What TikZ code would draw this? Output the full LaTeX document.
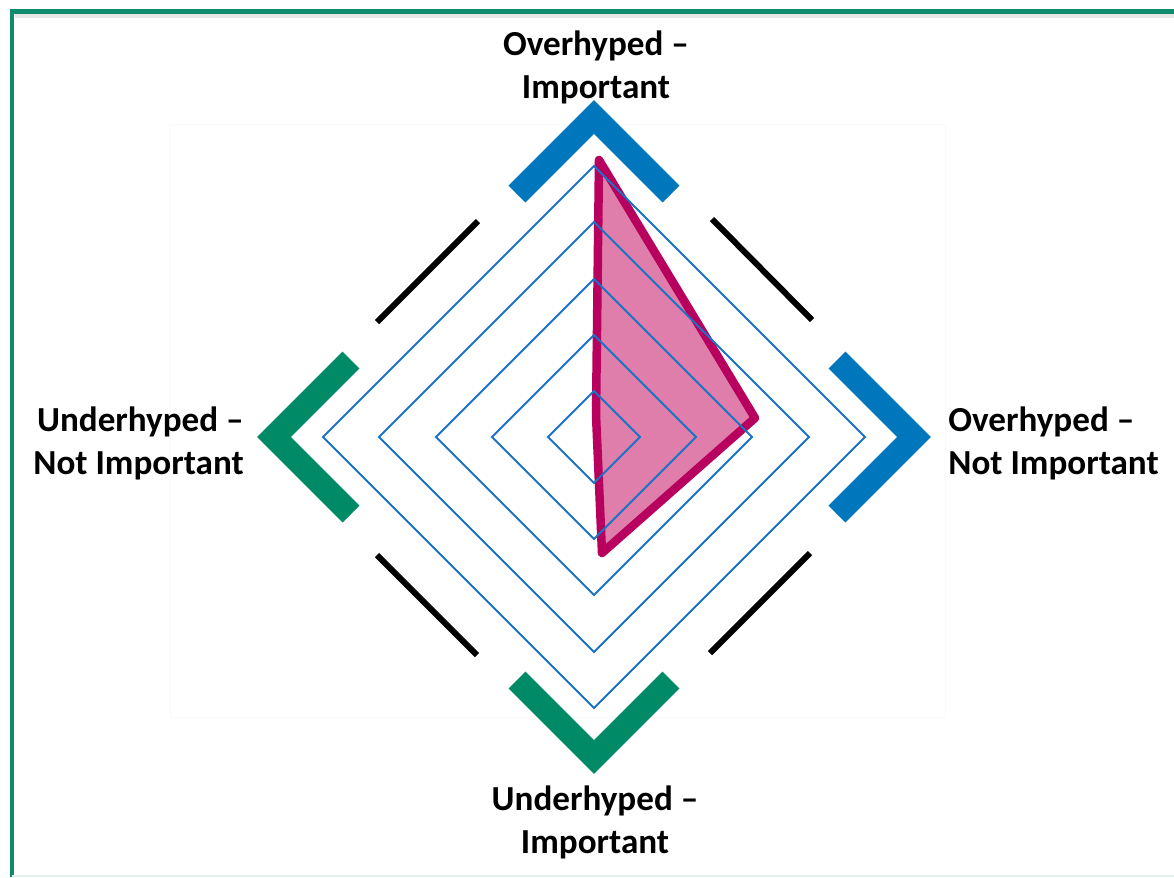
\documentclass[tikz,border=0pt]{standalone}
\usepackage{fontspec}
\setmainfont{Carlito}
\usetikzlibrary{positioning}

\definecolor{framegreen}{HTML}{0F8B6C}
\definecolor{ringblue}{HTML}{1A73C6}
\definecolor{hypeblue}{HTML}{0077BD}
\definecolor{hypegreen}{HTML}{008A66}
\definecolor{dataline}{HTML}{B8005E}
\definecolor{datafill}{HTML}{E07EAB}

\begin{document}
\begin{tikzpicture}[
    x=0.02cm, y=-0.02cm,
    lbl/.style = {
        font=\fontsize{20}{24.5}\selectfont\bfseries,
        inner sep=0pt
    },
    ring/.style = {draw=ringblue, line width=0.04cm},
    chevron/.style = {line width=0.48cm, line join=miter},
    spoke/.style = {draw=black, line width=0.12cm},
    datapoly/.style = {
        draw=dataline,
        fill=datafill,
        line width=0.17cm,
        line join=round
    }
]

\useasboundingbox (0,0) rectangle (1174,877);

% Frame round the chart
\draw[gray!20, line width=0.07cm] (15,16) -- (1174,16);
\draw[framegreen, line width=0.09cm] (12,877) -- (12,11.5) -- (1174,11.5);
\draw[framegreen!12, line width=0.04cm] (12,876) -- (1174,876);
\draw[gray!4] (170,124) rectangle (945,717);

\coordinate (c) at (594,437);

% Data series
\draw[datapoly] (599,160) -- (755,418) -- (602,553) -- (596,415) -- cycle;

% Grid rings
\foreach \r in {46,102,158,215,271}
    \draw[ring, shift={(c)}] (0,-\r) -- (\r,0) -- (0,\r) -- (-\r,0) -- cycle;

% Chevrons at the four axes
\draw[chevron, hypeblue]  (517,194) -- (594,117) -- (671,194);
\draw[chevron, hypeblue]  (837,360) -- (914,437) -- (837,514);
\draw[chevron, hypegreen] (517,680) -- (594,757) -- (671,680);
\draw[chevron, hypegreen] (351,360) -- (274,437) -- (351,514);

% Diagonal bars between the chevrons
\draw[spoke] (377,322) -- (478,221);
\draw[spoke] (712,219) -- (812,320);
\draw[spoke] (710,653) -- (810,553);
\draw[spoke] (377,555) -- (477,655);

% Axis labels
\node[lbl, align=center] (top)   at (596,67)  {Overhyped --\\Important};
\node[lbl, align=left, anchor=west]  (right) at (948,443) {Overhyped --\\Not Important};
\node[lbl, align=center] (bottom) at (595,822) {Underhyped --\\Important};
\node[lbl, align=right, anchor=east] (left)  at (244,443) {Underhyped --\\Not Important};

\end{tikzpicture}
\end{document}
